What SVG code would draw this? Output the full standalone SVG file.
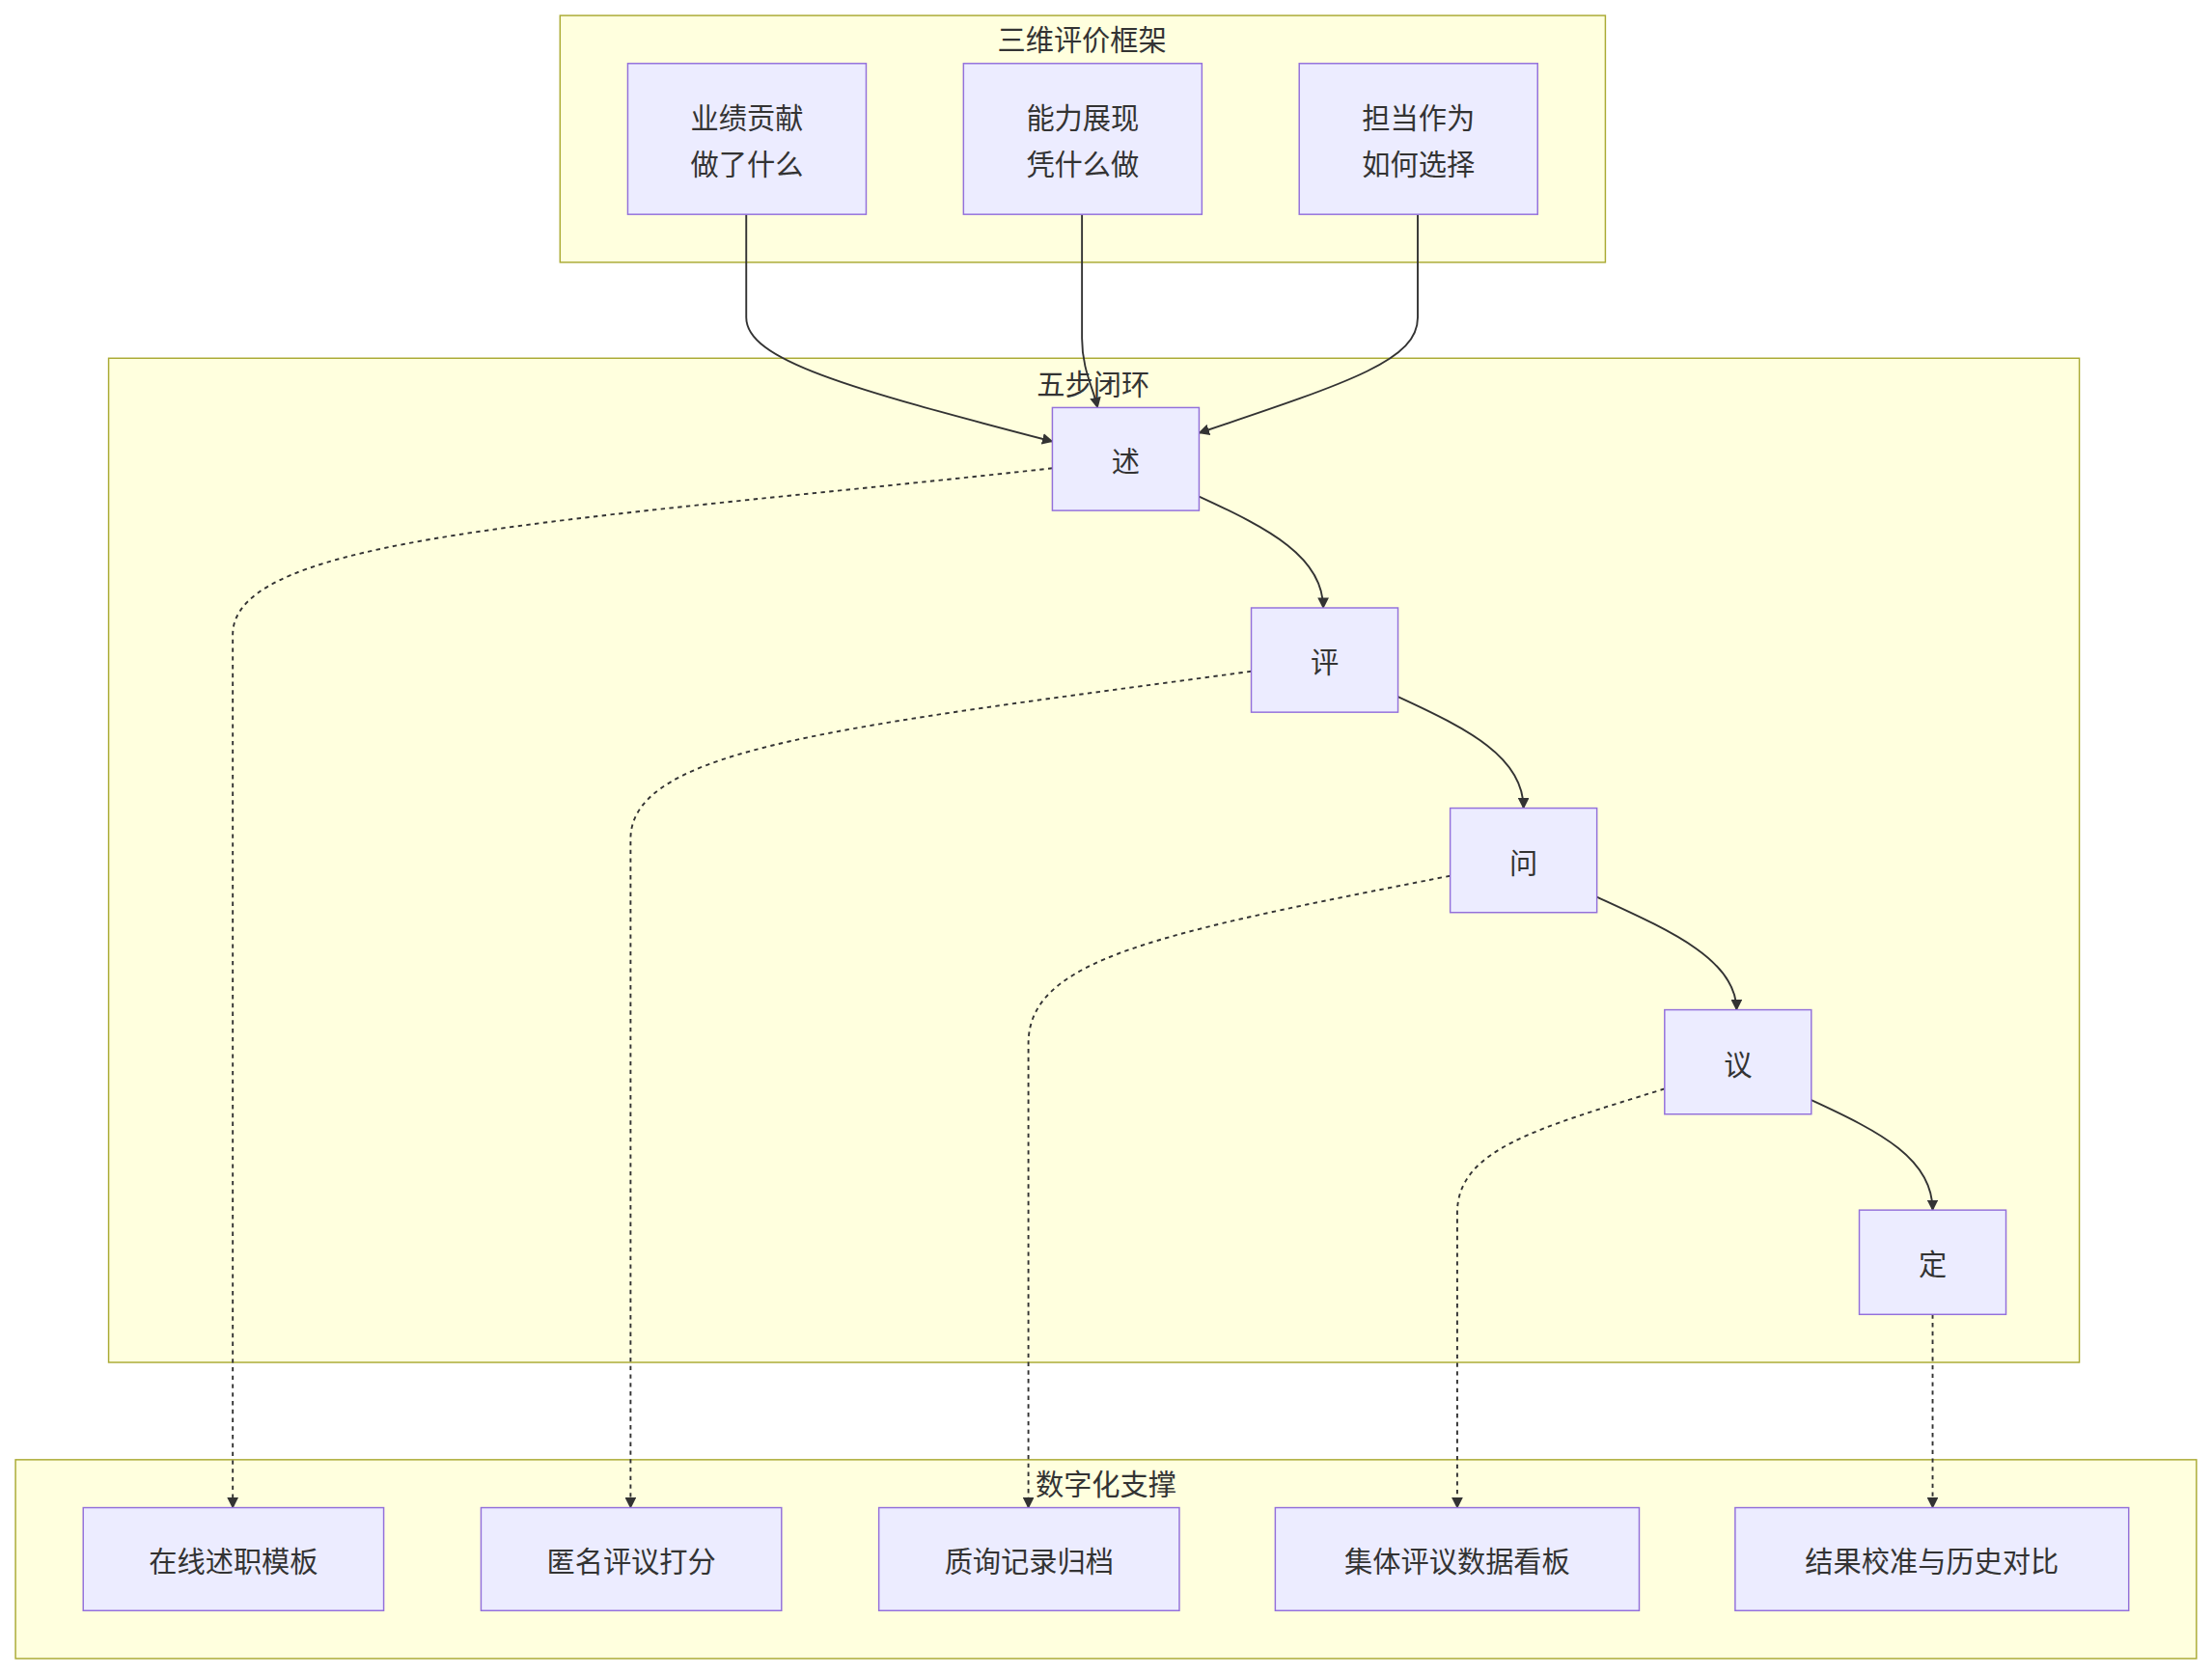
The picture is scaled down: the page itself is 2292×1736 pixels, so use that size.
<svg xmlns="http://www.w3.org/2000/svg" width="2292" height="1736" viewBox="0 0 2292 1736">
<style>
.cl{fill:#ffffde;stroke:#aaaa33;stroke-width:1}
.nd{fill:#ececff;stroke:#9370db;stroke-width:1}
text{font-family:"Noto Sans CJK SC","Liberation Sans",sans-serif;font-size:20px;fill:#333;text-anchor:middle;dominant-baseline:central}
.e{fill:none;stroke:#333;stroke-width:1.3}
.d{fill:none;stroke:#333;stroke-width:1.3;stroke-dasharray:3 3}
</style>
<defs><marker id="a" viewBox="0 0 10 10" refX="9" refY="5" markerWidth="8" markerHeight="8" markerUnits="userSpaceOnUse" orient="auto"><path d="M0,0L10,5L0,10z" fill="#333"/></marker></defs>
<rect width="2292" height="1736" fill="#fff"/>
<g transform="scale(1.4617)">
<g id="c1"><rect class="cl" x="397" y="11" width="741" height="175"/><text x="767" y="27">三维评价框架</text></g>
<g id="c2"><rect class="cl" x="77" y="254" width="1397" height="712"/><text x="775" y="271">五步闭环</text></g>
<g id="c3"><rect class="cl" x="11" y="1035" width="1546" height="141"/><text x="784" y="1051">数字化支撑</text></g>
<g id="connectors">
<path class="e" marker-end="url(#a)" d="M529,152L529,225C529,255 600,275 746,313"/>
<path class="e" marker-end="url(#a)" d="M767,152L767,240C767,262 775,275 778,289"/>
<path class="e" marker-end="url(#a)" d="M1005,152L1005,225C1005,255 960,270 850,307"/>
<path class="e" marker-end="url(#a)" d="M850,352C900,375 938,395 938,431"/>
<path class="e" marker-end="url(#a)" d="M991,494C1041,517 1080,537 1080,573"/>
<path class="e" marker-end="url(#a)" d="M1132,636C1182,659 1231,680 1231,716"/>
<path class="e" marker-end="url(#a)" d="M1284,780C1334,803 1370,822 1370,858"/>
<path class="d" marker-end="url(#a)" d="M746,332C400,370 165,380 165,450L165,1069"/>
<path class="d" marker-end="url(#a)" d="M887,476C600,515 447,530 447,595L447,1069"/>
<path class="d" marker-end="url(#a)" d="M1028,621C820,662 729,680 729,740L729,1069"/>
<path class="d" marker-end="url(#a)" d="M1180,772C1090,800 1033,815 1033,860L1033,1069"/>
<path class="d" marker-end="url(#a)" d="M1370,932L1370,1069"/>
</g>
<g id="n1"><rect class="nd" x="445" y="45" width="169" height="107"/><text x="529.5" y="82">业绩贡献</text><text x="529.5" y="115">做了什么</text></g>
<g id="n2"><rect class="nd" x="683" y="45" width="169" height="107"/><text x="767.5" y="82">能力展现</text><text x="767.5" y="115">凭什么做</text></g>
<g id="n3"><rect class="nd" x="921" y="45" width="169" height="107"/><text x="1005.5" y="82">担当作为</text><text x="1005.5" y="115">如何选择</text></g>
<g id="s1"><rect class="nd" x="746" y="289" width="104" height="73"/><text x="798" y="325.5">述</text></g>
<g id="s2"><rect class="nd" x="887" y="431" width="104" height="74"/><text x="939" y="468">评</text></g>
<g id="s3"><rect class="nd" x="1028" y="573" width="104" height="74"/><text x="1080" y="610">问</text></g>
<g id="s4"><rect class="nd" x="1180" y="716" width="104" height="74"/><text x="1232" y="753">议</text></g>
<g id="s5"><rect class="nd" x="1318" y="858" width="104" height="74"/><text x="1370" y="895">定</text></g>
<g id="b1"><rect class="nd" x="59" y="1069" width="213" height="73"/><text x="165.5" y="1105.5">在线述职模板</text></g>
<g id="b2"><rect class="nd" x="341" y="1069" width="213" height="73"/><text x="447.5" y="1105.5">匿名评议打分</text></g>
<g id="b3"><rect class="nd" x="623" y="1069" width="213" height="73"/><text x="729.5" y="1105.5">质询记录归档</text></g>
<g id="b4"><rect class="nd" x="904" y="1069" width="258" height="73"/><text x="1033" y="1105.5">集体评议数据看板</text></g>
<g id="b5"><rect class="nd" x="1230" y="1069" width="279" height="73"/><text x="1369.5" y="1105.5">结果校准与历史对比</text></g>
</g>
</svg>
